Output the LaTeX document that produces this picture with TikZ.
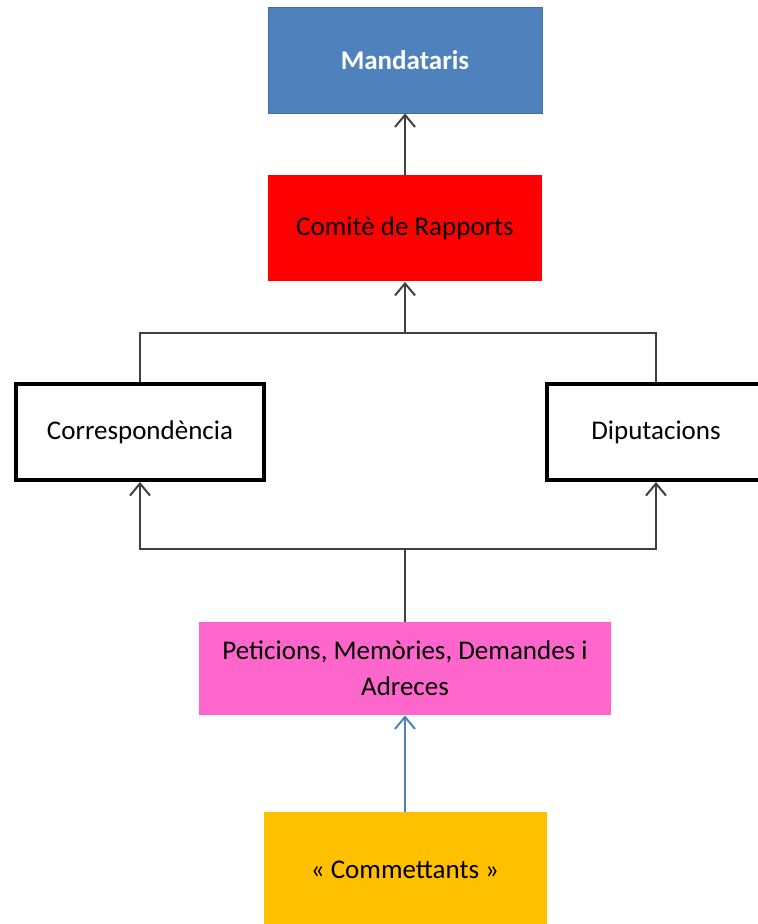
\documentclass[tikz,border=0pt]{standalone}
\usepackage{fontspec}
\setmainfont{Carlito}
\usetikzlibrary{arrows.meta}
\definecolor{mandblue}{HTML}{4F81BD}
\definecolor{rapred}{HTML}{FF0000}
\definecolor{petpink}{HTML}{FF66CC}
\definecolor{comyellow}{HTML}{FFC000}
\begin{document}
\begin{tikzpicture}[x=0.5pt, y=-0.5pt,
        box/.style={minimum width=137pt, minimum height=53pt, inner sep=0pt, font=\fontsize{13.5}{18}\selectfont},
        framebox/.style={box, draw=black, line width=2pt, fill=white, minimum width=124pt, minimum height=48pt},
        link/.style={draw=black!75, line width=1pt},
        uplink/.style={link, -{Straight Barb[length=6pt, width=10pt]}}]
                \useasboundingbox (0,0) rectangle (758,924);

                \node[box, fill=mandblue, draw=mandblue!85!black, text=white, font=\fontsize{13.5}{18}\selectfont\bfseries] (M) at (405,60) {Mandataris};
                \node[box, fill=rapred, below of=M, node distance=84.25pt] (R) {Comitè de Rapports};
                \node[framebox] (C) at (140,432) {Correspondència};
                \node[framebox, minimum width=109pt] (D) at (656,432) {Diputacions};
                \node[box, fill=petpink, minimum width=206pt, minimum height=46.5pt, align=center, below of=R, node distance=220pt] (P) {Peticions, Memòries, Demandes i\\Adreces};
                \node[box, fill=comyellow, minimum width=141.5pt, minimum height=58pt, below of=P, node distance=100.75pt] (T) {« Commettants »};

                \coordinate (J) at (405,333);
                \coordinate (K) at (405,549);

                \draw[uplink] (R) -- (M);
                \draw[link] (C) |- (J) -| (D);
                \draw[uplink] (J) -- (R);
                \draw[link] (P) -- (K);
                \draw[uplink] (K) -| (C);
                \draw[uplink] (K) -| (D);
                \draw[uplink, draw=mandblue] (T) -- (P);
            \end{tikzpicture}
\end{document}
